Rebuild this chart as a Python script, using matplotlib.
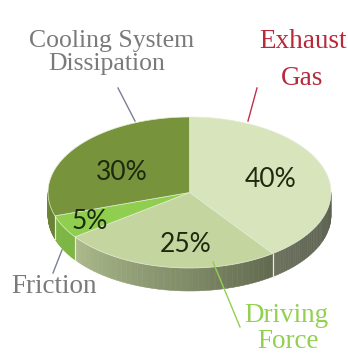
import matplotlib.pyplot as plt
import numpy as np

# datos del grafico de torta
etiquetas = ['Exhaust Gas', 'Driving Force', 'Friction', 'Cooling System Dissipation']
valores = [40, 25, 5, 30]
colores = ['#d8e4bc', '#c4d59f', '#8fce4e', '#77933c']

# geometria de la torta (pixeles)
cx, cy, rx, ry, prof = 189.5, 192.5, 141.5, 75.5, 23

fig = plt.figure(figsize=(3.48, 3.58), dpi=100)
ax = fig.add_axes([0, 0, 1, 1])
ax.set_xlim(0, 348)
ax.set_ylim(358, 0)
ax.axis('off')


def arco(t, dy=0):
    t = np.radians(t)
    return cx + rx * np.cos(t), cy - ry * np.sin(t) + dy


def sombra(t):
    return np.interp(t % 360, [180, 215, 305, 360], [0.9, 0.88, 0.5, 0.42])


angulos = 90 - np.concatenate([[0], np.cumsum(valores)]) * 3.6

# lados
for i in range(len(valores)):
    hi, lo = angulos[i], angulos[i + 1]
    a, b = max(lo, -180), min(hi, 0)
    if a >= b:
        continue
    base = np.array(plt.matplotlib.colors.to_rgb(colores[i]))
    ts = np.linspace(a, b, 40)
    for t0, t1 in zip(ts[:-1], ts[1:]):
        x0, y0 = arco(t0)
        x1, y1 = arco(t1)
        c = np.clip(base * sombra((t0 + t1) / 2), 0, 1)
        ax.fill([x0, x1, x1, x0], [y0, y1, y1 + prof, y0 + prof], color=c, lw=0.4, ec=c)
    # separador claro
    for t in (a, b):
        if -180 < t < 0:
            x, y = arco(t)
            ax.plot([x, x], [y, y + prof], color='#e8eed8', lw=0.8)

# cara superior
for i in range(len(valores)):
    ts = np.linspace(angulos[i], angulos[i + 1], 80)
    xs, ys = arco(ts)
    ax.fill(np.r_[cx, xs], np.r_[cy, ys], color=colores[i], lw=0.5, ec='#e4ebd4')

# porcentajes
pos_pct = [(271, 187), (186, 252), (90, 229), (122, 180)]
for v, (x, y) in zip(valores, pos_pct):
    ax.text(x, y, f'{v}%', ha='center', va='baseline', fontsize=19,
            family='Lato', color='#1e2a10')

# etiquetas externas
serif = 'Liberation Serif'
gris = '#7a7a7a'
ax.text(112, 47, 'Cooling System', ha='center', va='baseline', fontsize=18.5, family=serif, color=gris)
ax.text(107, 70, 'Dissipation', ha='center', va='baseline', fontsize=18.5, family=serif, color=gris)
ax.text(303, 48, 'Exhaust', ha='center', va='baseline', fontsize=19.5, family=serif, color='#b8293c')
ax.text(302, 85, 'Gas', ha='center', va='baseline', fontsize=19.5, family=serif, color='#b8293c')
ax.text(54, 293, 'Friction', ha='center', va='baseline', fontsize=19.5, family=serif, color=gris)
ax.text(286, 322, 'Driving', ha='center', va='baseline', fontsize=19.5, family=serif, color='#92d050')
ax.text(288, 348, 'Force', ha='center', va='baseline', fontsize=19.5, family=serif, color='#92d050')

# lineas guia
ax.plot([118, 135], [88, 121], color='#7a7e98', lw=1)
ax.plot([257, 248], [88, 121], color='#c0304a', lw=1)
ax.plot([62, 53], [250, 273], color='#7a7e98', lw=1)
ax.plot([213, 240], [262, 327], color='#92d050', lw=1)

plt.savefig('out.png', dpi=100)
